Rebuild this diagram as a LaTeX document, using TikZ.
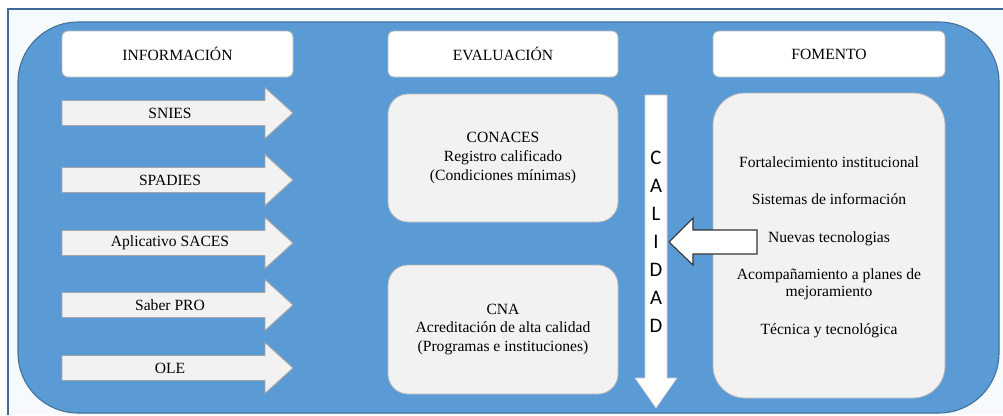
\documentclass[tikz,border=0pt]{standalone}
\usepackage{fontspec}
\setmainfont{Liberation Serif}
\newfontfamily\serfont{Liberation Serif}
\newfontfamily\calfont{Carlito}
\definecolor{bluebg}{HTML}{5B9BD5}
\definecolor{blueedge}{HTML}{41719C}
\definecolor{boxgray}{HTML}{F2F2F2}
\definecolor{frameline}{HTML}{3D6A96}
\definecolor{paleback}{HTML}{F7FAFD}
\definecolor{txtcol}{HTML}{000000}
\begin{document}
\begin{tikzpicture}[x=0.75pt,y=-0.75pt,
  txt/.style={text=txtcol, font=\serfont\fontsize{11.7}{13.5}\selectfont, align=center, inner sep=0pt},
  headbox/.style={draw=gray!55, fill=white, rounded corners=4.5pt, line width=0.6pt,
    minimum height=34.5pt, text=txtcol, font=\serfont\fontsize{11.7}{13.5}\selectfont, inner sep=0pt},
  evalbox/.style={draw=gray!55, fill=boxgray, rounded corners=15pt, line width=0.6pt,
    minimum width=172.5pt, text=txtcol, font=\serfont\fontsize{11.7}{14}\selectfont, align=center, inner sep=0pt},
  blockarrow/.style={fill=boxgray, draw=gray!70, line width=0.7pt, line join=miter},
  whitearrow/.style={fill=white, draw=gray!40, line width=0.5pt},
  leftarrow/.style={fill=white, draw=black!80, line width=0.8pt, line join=miter}
]
\useasboundingbox (0,0) rectangle (1003,415);
\fill[white] (0,0) rectangle (1003,415);
\fill[paleback] (8,9) rectangle (1003,415);
\draw[frameline, line width=1.2pt] (8,415) -- (8,9) -- (1003,9);
% big blue panel
\draw[fill=bluebg, draw=blueedge, line width=0.8pt, rounded corners=45pt]
  (18,22) rectangle (999,413);
% headers
\node[headbox, minimum width=173.25pt] (info) at (177.5,54) {INFORMACIÓN};
\node[headbox, minimum width=172.5pt] (eval) at (503,54) {EVALUACIÓN};
\node[headbox, minimum width=174pt] (fom) at (829,54) {FOMENTO};
% information arrows
\foreach \yc/\lbl/\nm in {113/SNIES/snies,180/SPADIES/spadies,243/Aplicativo SACES/saces,305/Saber PRO/saber,368/OLE/ole}{
  \draw[blockarrow] (62,\yc-12.5) -- (265,\yc-12.5) -- (265,\yc-25.5) -- (293,\yc)
    -- (265,\yc+25.5) -- (265,\yc+12.5) -- (62,\yc+12.5) -- cycle;
  \node[txt] (\nm) at (170,\yc) {\lbl};
}
% evaluation boxes
\node[evalbox, minimum height=96pt] (conaces) at (503,158)
  {CONACES\\Registro calificado\\(Condiciones mínimas)};
\node[evalbox, minimum height=96.75pt] (cna) at (503,329.5)
  {CNA\\Acreditación de alta calidad\\(Programas e instituciones)};
% calidad arrow
\draw[whitearrow] (645,95) -- (667,95) -- (667,378) -- (677,378) -- (656,408)
  -- (635,378) -- (645,378) -- cycle;
\node[align=center, inner sep=0pt, text=txtcol, font=\calfont\fontsize{15.5}{21}\selectfont]
  (calidad) at (656,242) {C\\A\\L\\I\\D\\A\\D};
% fomento box
\node[draw=gray!55, fill=boxgray, rounded corners=24pt, line width=0.6pt,
  minimum width=174pt, minimum height=228.75pt, inner sep=0pt] (fombox) at (829,245.5) {};
\node[txt, font=\serfont\fontsize{11.7}{13}\selectfont] (fomtext) at (829,247)
  {Fortalecimiento institucional\\[15pt]Sistemas de información\\[15pt]Nuevas tecnologias\\[15pt]Acompañamiento a planes de\\mejoramiento\\[15pt]Técnica y tecnológica};
% arrow from fomento to calidad
\coordinate (tip) at (669,242);
\draw[leftarrow] (tip) -- (693,218) -- (693,230) -- (757,230) -- (757,254)
  -- (693,254) -- (693,265) -- cycle;
\end{tikzpicture}
\end{document}
